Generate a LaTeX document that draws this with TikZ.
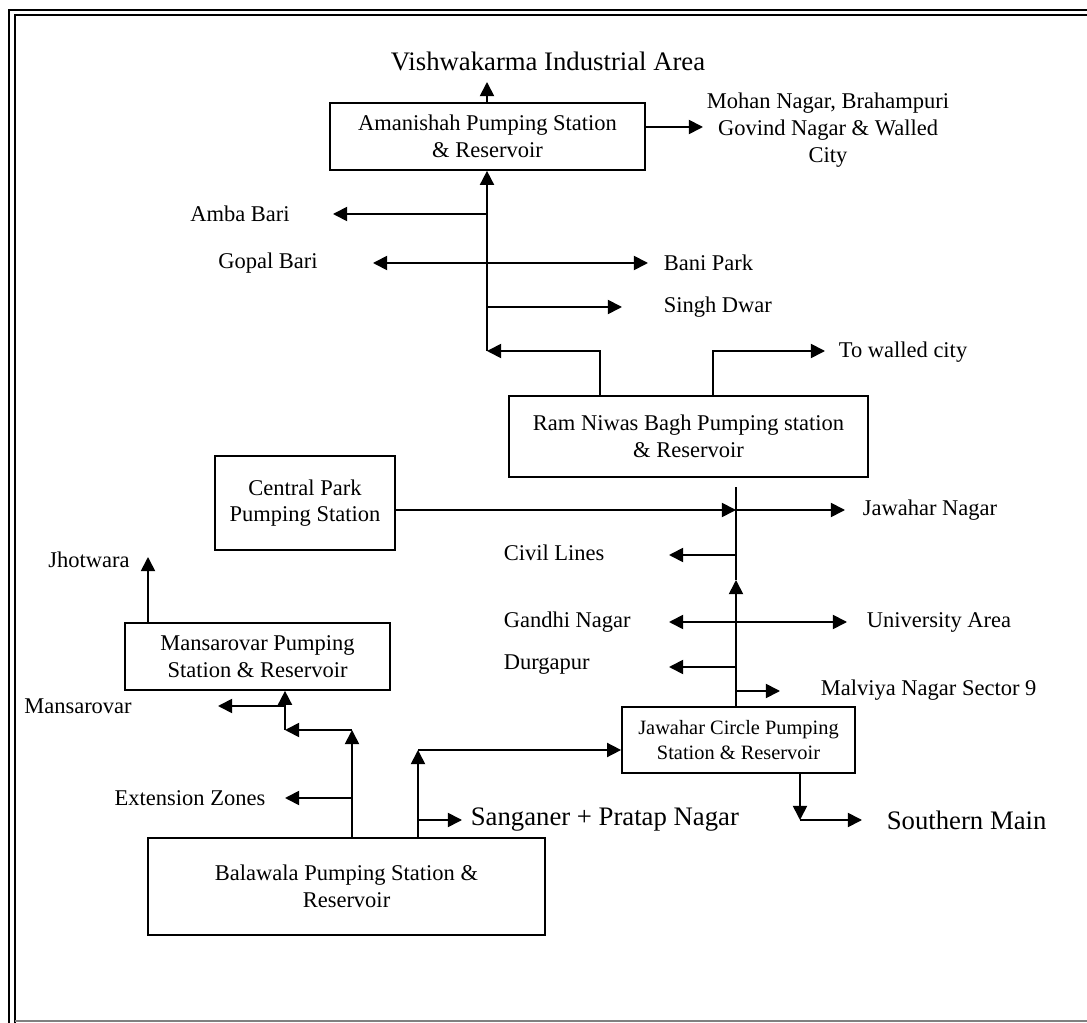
\documentclass[tikz,border=0pt]{standalone}
\usepackage{fontspec}
\setmainfont{Liberation Serif}
\usetikzlibrary{arrows.meta}
\begin{document}
\begin{tikzpicture}[x=0.025cm,y=-0.025cm,line width=1.2pt,>={Triangle[length=10pt,width=10pt]},
  station/.style={draw,align=center,font=\fontsize{16}{19}\selectfont,inner sep=0pt},
  place/.style={font=\fontsize{16}{19}\selectfont,align=center,inner sep=0pt},
  bigplace/.style={font=\fontsize{19}{22}\selectfont,inner sep=0pt}]
\useasboundingbox (0,0) rectangle (1087,1023);
\draw[line width=2pt] (9,1023) -- (9,10) -- (1087,10);
\draw[line width=1.2pt] (15,1023) -- (15,15) -- (1087,15);
\draw[gray,line width=1pt] (15,1021) -- (1087,1021);

\node[station,minimum width=7.875cm,minimum height=1.675cm] (aman) at (487.5,136.5) {Amanishah Pumping Station\\ \& Reservoir};
\node[place,font=\fontsize{19}{22}\selectfont] (vish) at (548,61) {Vishwakarma Industrial Area};
\coordinate (vishtip) at (487,82);
\draw[->] (aman.north -| vishtip) -- (vishtip);
\node[place] (mohan) at (828,130) {Mohan Nagar, Brahampuri\\Govind Nagar \& Walled\\City};
\coordinate (mohantip) at (703,127);
\draw[->] (aman.east |- mohantip) -- (mohantip);

\coordinate (rnl) at (487,351);
\draw[->] (rnl) -- (aman.south -| rnl);
\coordinate (ambaj) at (487,214);
\coordinate (ambatip) at (333,214);
\draw[->] (ambaj) -- (ambatip);
\node[place] (amba) at (240,214) {Amba Bari};
\coordinate (gopaltip) at (373,263);
\coordinate (banitip) at (648,263);
\draw[<->] (gopaltip) -- (banitip);
\node[place] (gopal) at (268,263) {Gopal Bari};
\node[place,anchor=west] (bani) at (663,263) {Bani Park};
\coordinate (singhj) at (487,307);
\coordinate (singhtip) at (622,307);
\draw[->] (singhj) -- (singhtip);
\node[place,anchor=west] (singh) at (663,307) {Singh Dwar};

\node[station,minimum width=8.975cm,minimum height=2.025cm] (ram) at (688.5,436.5) {Ram Niwas Bagh Pumping station\\ \& Reservoir};
\coordinate (ramleft) at (600,351);
\draw[->] (ram.north -| ramleft) -- (ramleft) -- (rnl);
\coordinate (ramright) at (713,351);
\coordinate (walledtip) at (825,351);
\draw[->] (ram.north -| ramright) -- (ramright) -- (walledtip);
\node[place,anchor=west] (walled) at (838,352) {To walled city};

\node[station,minimum width=4.5cm,minimum height=2.35cm] (central) at (305,503) {Central Park\\Pumping Station};
\node[station,minimum width=5.825cm,minimum height=1.65cm,font=\fontsize{14.5}{18}\selectfont] (jcircle) at (738.5,740) {Jawahar Circle Pumping\\Station \& Reservoir};
\coordinate (jtop) at (736,487);
\coordinate (jup) at (736,580);
\coordinate (jnj) at (736,510);
\draw[->] (jcircle.north -| jup) -- (jup);
\draw (jup) -- (jtop);
\draw[->] (central.east |- jnj) -- (jnj);
\coordinate (jntip) at (845,510);
\draw[->] (jnj) -- (jntip);
\node[place,anchor=west] (jnagar) at (862,510) {Jawahar Nagar};
\coordinate (civilj) at (736,555);
\coordinate (civiltip) at (669,555);
\draw[->] (civilj) -- (civiltip);
\node[place,anchor=west] (civil) at (503,553) {Civil Lines};
\coordinate (gandhitip) at (669,622);
\coordinate (unitip) at (847,622);
\draw[<->] (gandhitip) -- (unitip);
\node[place,anchor=west] (gandhi) at (503,622) {Gandhi Nagar};
\node[place,anchor=west] (uni) at (866,622) {University Area};
\coordinate (durgaj) at (736,667);
\coordinate (durgatip) at (669,667);
\draw[->] (durgaj) -- (durgatip);
\node[place,anchor=west] (durga) at (503,665) {Durgapur};
\coordinate (malj) at (736,691);
\coordinate (maltip) at (780,691);
\draw[->] (malj) -- (maltip);
\node[place,anchor=west] (malviya) at (820,690) {Malviya Nagar Sector 9};

\coordinate (southc) at (800,820);
\coordinate (southtip) at (862,820);
\draw[->] (jcircle.south -| southc) -- (southc);
\draw[->] (southc) -- (southtip);
\node[bigplace,anchor=west] (southern) at (886,820) {Southern Main};

\node[station,minimum width=6.625cm,minimum height=1.675cm] (mans) at (257.5,656.5) {Mansarovar Pumping\\Station \& Reservoir};
\coordinate (jhotip) at (148,557);
\draw[->] (mans.north -| jhotip) -- (jhotip);
\node[place] (jhot) at (89,560) {Jhotwara};
\coordinate (mansj) at (285,730);
\coordinate (mansl) at (285,706);
\coordinate (manstip) at (218,706);
\draw[->] (mansj) -- (mans.south -| mansj);
\draw[->] (mansl) -- (manstip);
\node[place] (mansarovar) at (78,706) {Mansarovar};

\node[station,minimum width=9.925cm,minimum height=2.425cm] (bala) at (346.5,886.5) {Balawala Pumping Station \&\\Reservoir};
\coordinate (extc) at (352,730);
\draw[->] (bala.north -| extc) -- (extc);
\draw[->] (extc) -- (mansj);
\coordinate (extj) at (352,798);
\coordinate (exttip) at (285,798);
\draw[->] (extj) -- (exttip);
\node[place] (ext) at (190,798) {Extension Zones};
\coordinate (sangc) at (418,750);
\draw[->] (bala.north -| sangc) -- (sangc);
\draw[->] (sangc) -- (jcircle.west |- sangc);
\coordinate (sangj) at (418,820);
\coordinate (sangtip) at (462,820);
\draw[->] (sangj) -- (sangtip);
\node[bigplace,anchor=west] (sang) at (470,820) {Sanganer + Pratap Nagar};
\end{tikzpicture}
\end{document}
